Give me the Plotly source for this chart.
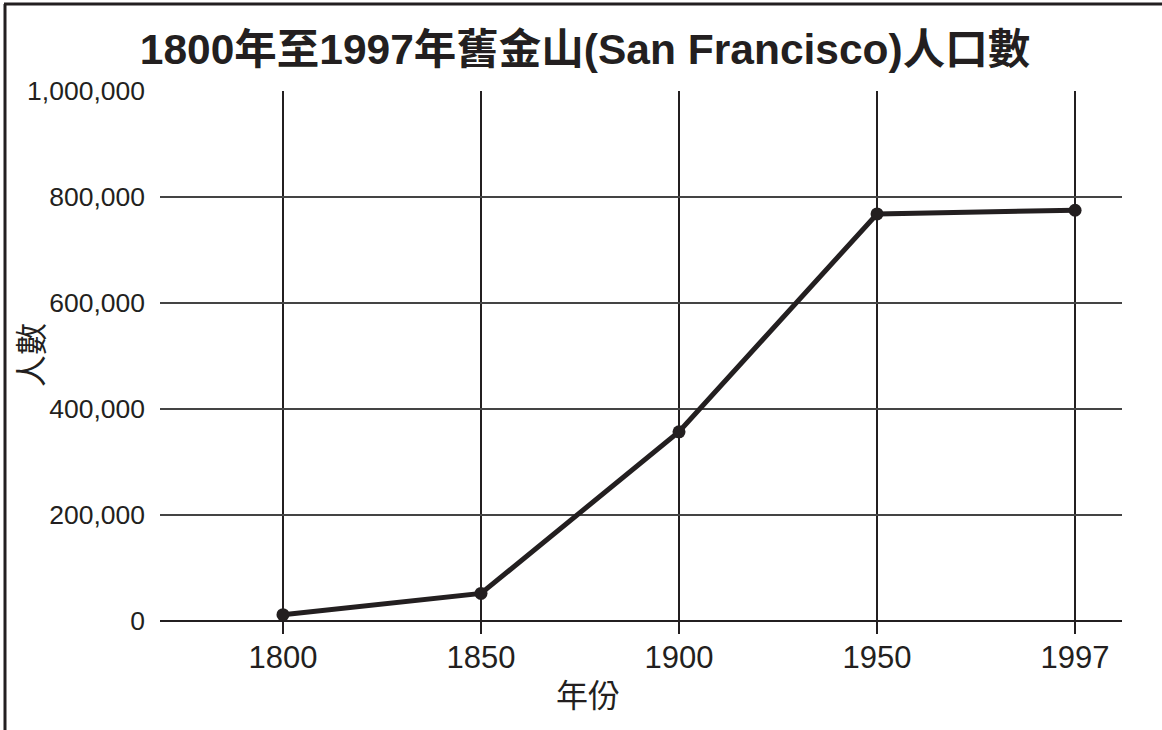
import plotly.graph_objects as go

years = ["1800", "1850", "1900", "1950", "1997"]
population = [12000, 52000, 357000, 768000, 775000]
y_ticks = [0, 200000, 400000, 600000, 800000, 1000000]

title_text = "1800年至1997年舊金山(San Francisco)人口數"
x_title = "年份"
y_title = "人數"

INK = "#231f20"
FONT = "Liberation Sans, Arial, Noto Sans CJK TC, sans-serif"

W, H = 1162, 730
L, R, T, B = 160, 40, 91, 109
pw, ph = W - L - R, H - T - B

def px_x(x):
    return (x - L) / pw

def px_y(y):
    return (H - B - y) / ph

fig = go.Figure()
fig.add_trace(go.Scatter(
    x=years, y=population, mode="lines+markers",
    line=dict(color=INK, width=5),
    marker=dict(color=INK, size=13),
    showlegend=False, cliponaxis=False,
))

fig.update_layout(
    width=W, height=H,
    margin=dict(l=L, r=R, t=T, b=B),
    paper_bgcolor="white", plot_bgcolor="white",
    font=dict(family=FONT, color=INK),
    title=dict(text="<b>" + title_text + "</b>", x=585 / W, xanchor="center",
               y=1 - 49 / H, yanchor="middle", yref="container",
               font=dict(size=42.5, color=INK, family=FONT)),
    xaxis=dict(type="category", range=[-0.621, 4.237],
               showgrid=True, gridcolor=INK, gridwidth=1.5,
               ticks="outside", ticklen=12, tickwidth=1.5, tickcolor=INK,
               tickfont=dict(size=31, color=INK), ticklabelstandoff=-3,
               showline=False, zeroline=False),
    yaxis=dict(range=[0, 1000000], tickvals=y_ticks, tickformat=",",
               showgrid=True, gridcolor="#444444", gridwidth=1.5,
               zeroline=True, zerolinecolor=INK, zerolinewidth=2,
               ticks="", tickfont=dict(size=26.5, color=INK), ticklabelstandoff=14,
               showline=False),
    annotations=[
        dict(text=x_title, x=px_x(588), y=px_y(696), xref="paper", yref="paper",
             showarrow=False, xanchor="center", yanchor="middle",
             font=dict(size=32, color=INK, family=FONT)),
        dict(text=y_title, x=px_x(32), y=px_y(355), xref="paper", yref="paper",
             showarrow=False, xanchor="center", yanchor="middle", textangle=-90,
             font=dict(size=32, color=INK, family=FONT)),
    ],
    shapes=[
        dict(type="line", xref="paper", yref="paper",
             x0=px_x(5), x1=px_x(5), y0=px_y(735), y1=px_y(4),
             line=dict(color=INK, width=3)),
        dict(type="line", xref="paper", yref="paper",
             x0=px_x(4), x1=px_x(1170), y0=px_y(4), y1=px_y(4),
             line=dict(color=INK, width=3)),
    ],
)

fig.write_html("out.html", config={"displayModeBar": False},
               post_script="document.body.style.margin='0';document.body.style.overflow='hidden';")
